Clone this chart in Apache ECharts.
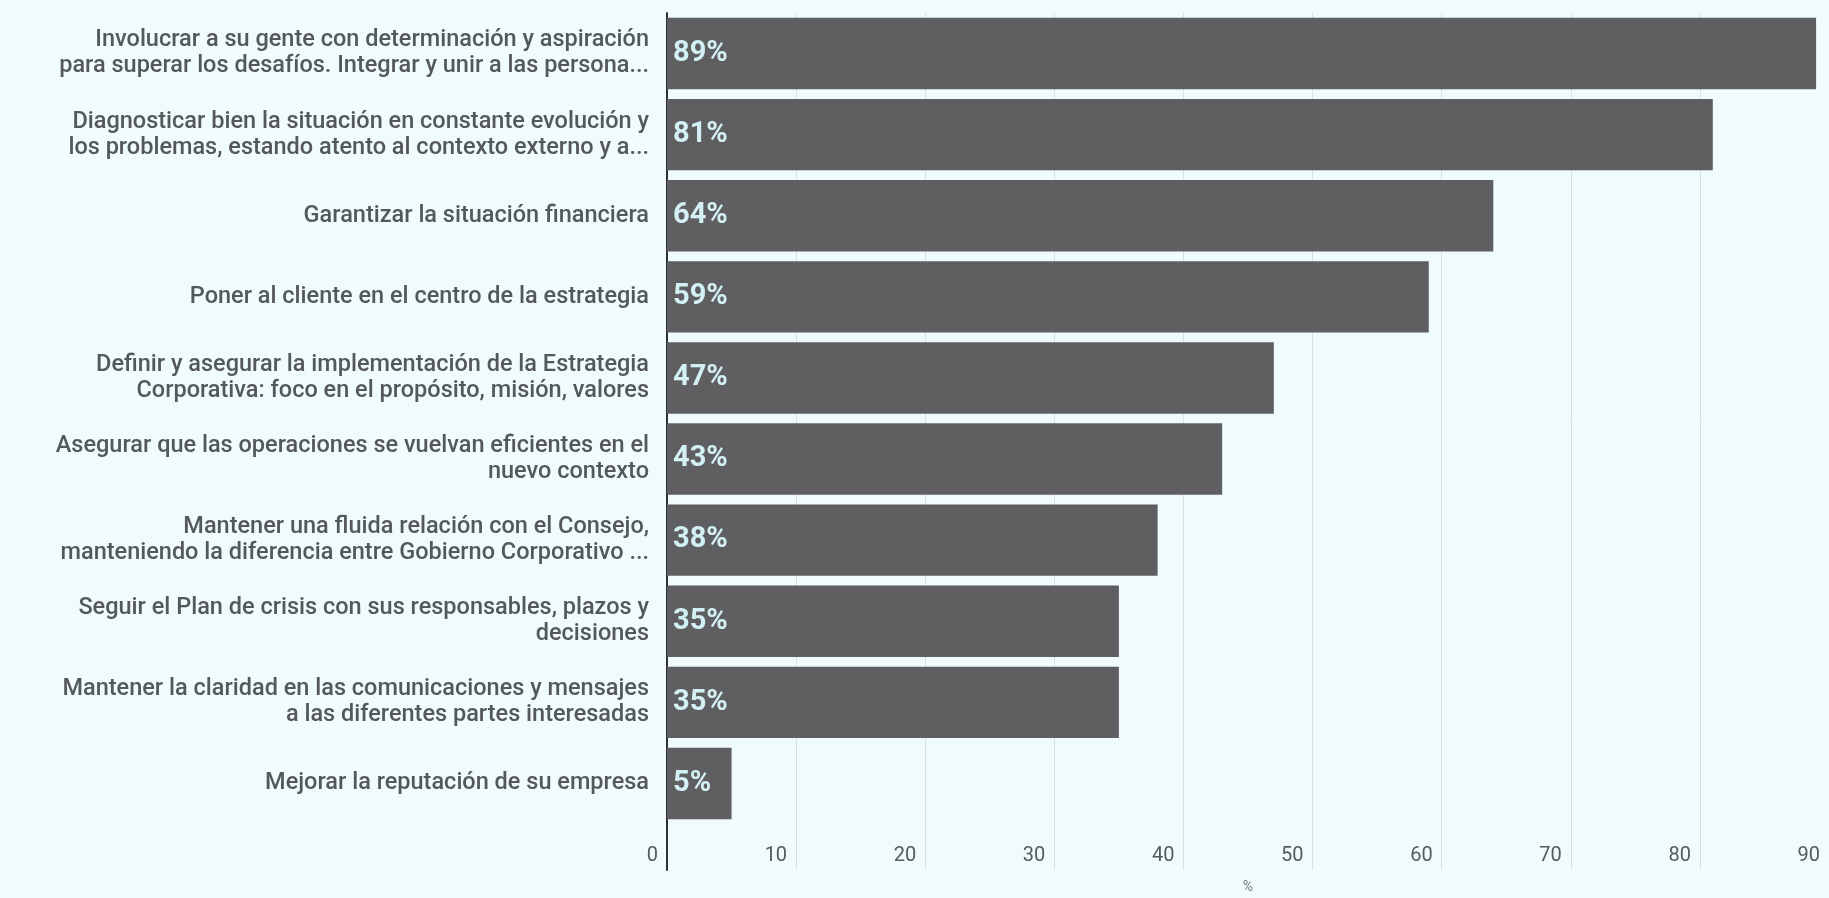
<!DOCTYPE html>
<html>
<head>
<meta charset="utf-8">
<script src="https://cdn.jsdelivr.net/npm/echarts@6/dist/echarts.min.js"></script>
<style>
html,body{margin:0;padding:0;background:#effbfd;}
#chart{width:1829px;height:898px;}
</style>
</head>
<body>
<div id="chart"></div>
<script>
const categories = [
  "Involucrar a su gente con determinación y aspiración\npara superar los desafíos. Integrar y unir a las persona...",
  "Diagnosticar bien la situación en constante evolución y\nlos problemas, estando atento al contexto externo y a...",
  "Garantizar la situación financiera",
  "Poner al cliente en el centro de la estrategia",
  "Definir y asegurar la implementación de la Estrategia\nCorporativa: foco en el propósito, misión, valores",
  "Asegurar que las operaciones se vuelvan eficientes en el\nnuevo contexto",
  "Mantener una fluida relación con el Consejo,\nmanteniendo la diferencia entre Gobierno Corporativo ...",
  "Seguir el Plan de crisis con sus responsables, plazos y\ndecisiones",
  "Mantener la claridad en las comunicaciones y mensajes\na las diferentes partes interesadas",
  "Mejorar la reputación de su empresa"
];
const values = [89, 81, 64, 59, 47, 43, 38, 35, 35, 5];
const axisMin = 0, axisMax = 90, axisInterval = 10;
const axisName = "%";

const chart = echarts.init(document.getElementById('chart'), null, {renderer: 'canvas'});
const gridColor = '#d8e0e2';
chart.setOption({
  backgroundColor: '#effbfd',
  animation: false,
  textStyle: {fontFamily: 'Roboto'},
  grid: [
    {left: 667, right: 0, top: 13, height: 811},
    {left: 667, right: 0, top: 824, height: 46}
  ],
  xAxis: [
    {
      gridIndex: 0, type: 'value', min: axisMin, max: axisMax, interval: axisInterval,
      axisLine: {show: false}, axisTick: {show: false}, axisLabel: {show: false},
      splitLine: {show: true, lineStyle: {color: gridColor, width: 1}}
    },
    {
      gridIndex: 1, type: 'value', min: axisMin, max: axisMax, interval: axisInterval,
      position: 'bottom',
      axisLine: {show: false}, axisTick: {show: false},
      axisLabel: {inside: true, margin: 4, align: 'right', padding: [0, 9, 0, 0],
        fontSize: 20, color: '#555a5b', fontFamily: 'Roboto'},
      splitLine: {show: true, lineStyle: {color: gridColor, width: 1}},
      name: axisName, nameLocation: 'middle', nameGap: 10,
      nameTextStyle: {fontSize: 14, color: '#777', fontFamily: 'Roboto'}
    }
  ],
  yAxis: [
    {
      gridIndex: 0, type: 'category', inverse: true, data: categories,
      axisLine: {show: true, lineStyle: {color: '#2f3233', width: 2}},
      axisTick: {show: false},
      axisLabel: {fontSize: 23.5, fontWeight: 500, lineHeight: 26, color: '#55585a', margin: 18, align: 'right',
        fontFamily: 'Roboto'}
    },
    {
      gridIndex: 1, type: 'category', data: [''],
      axisLine: {show: true, lineStyle: {color: '#2f3233', width: 2}},
      axisTick: {show: false}, axisLabel: {show: false}, splitLine: {show: false}
    }
  ],
  series: [{
    type: 'bar',
    xAxisIndex: 0, yAxisIndex: 0,
    data: values,
    barCategoryGap: '12%',
    itemStyle: {color: '#5f5f61'},
    label: {
      show: true, position: 'insideLeft', distance: 6,
      formatter: '{c}%', fontSize: 29, fontWeight: 'bold', color: '#d3f0f5',
      fontFamily: 'Roboto'
    }
  }]
});
</script>
</body>
</html>
